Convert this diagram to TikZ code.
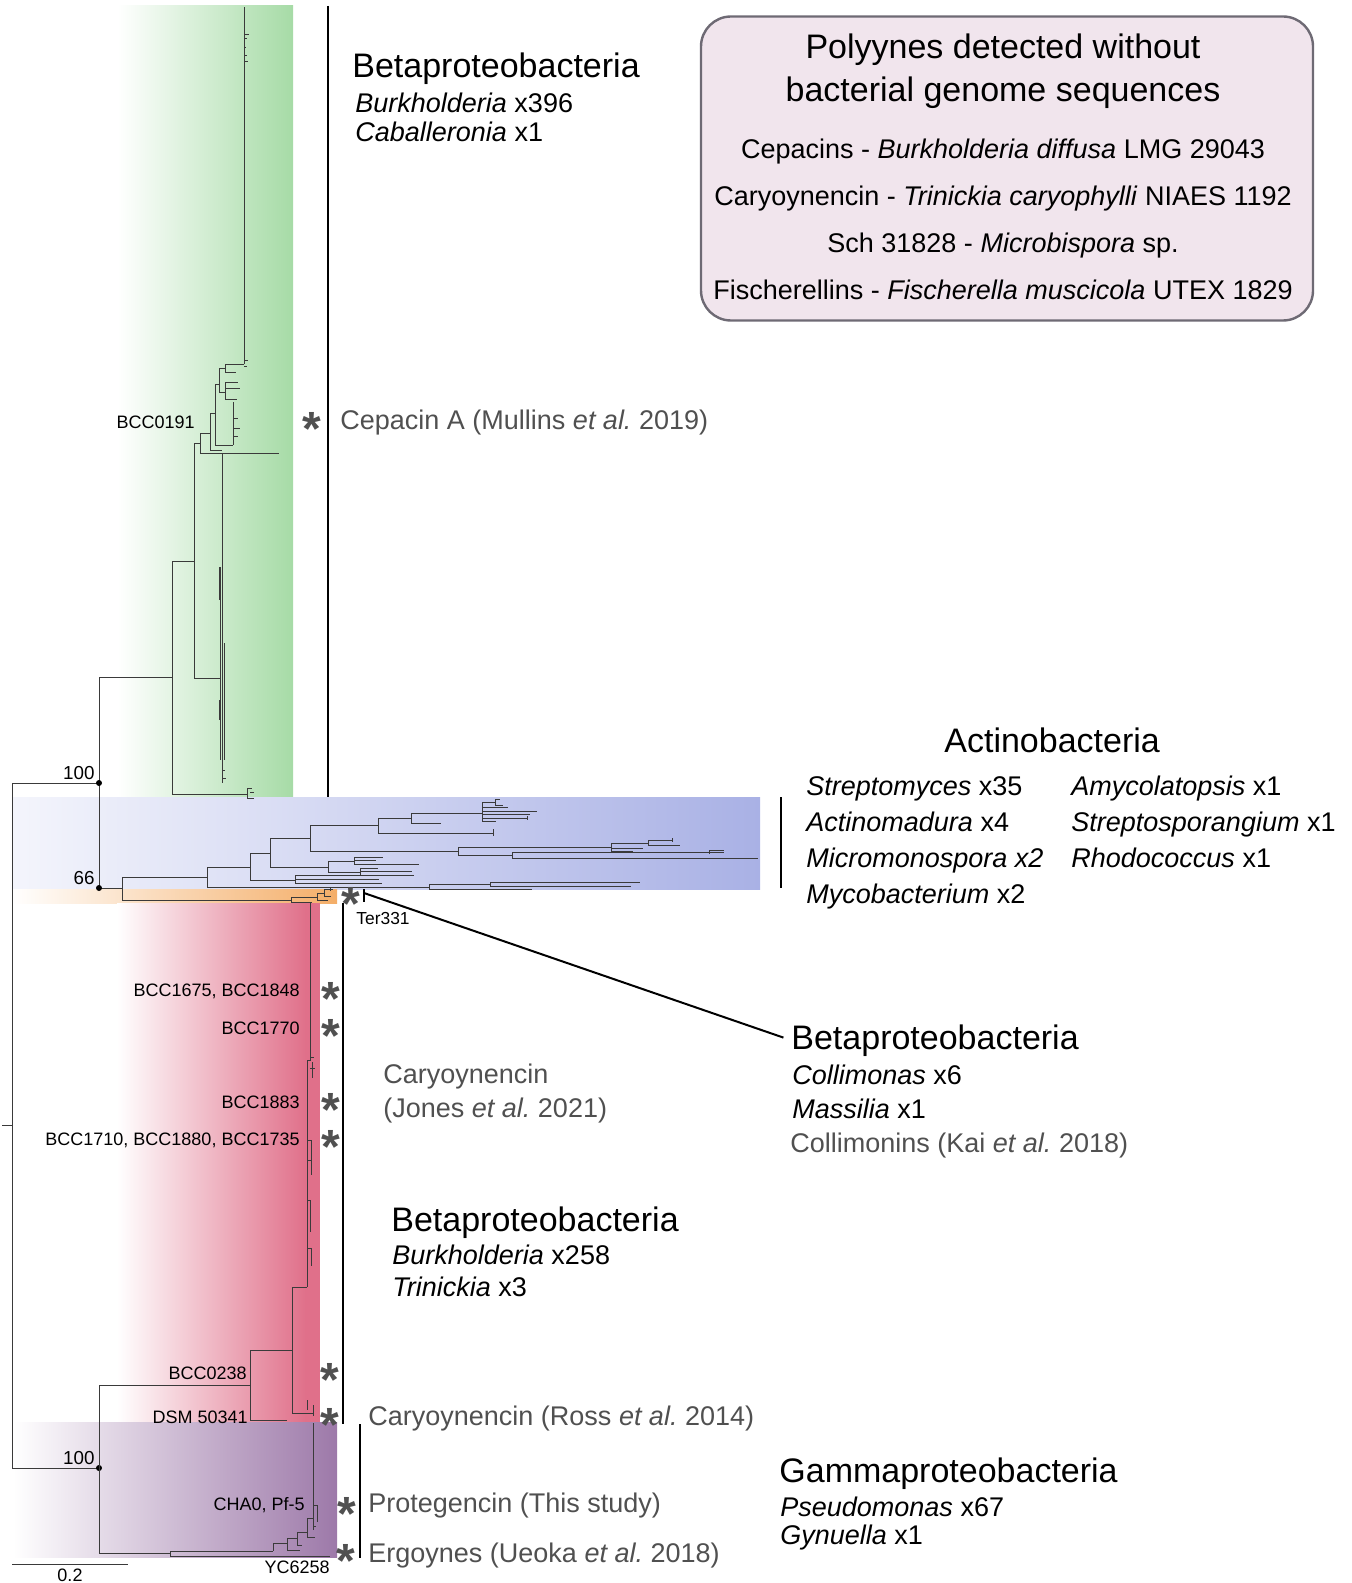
\documentclass[tikz,border=0pt]{standalone}
\usepackage{fontspec}
\setmainfont{Liberation Sans}
\usetikzlibrary{positioning}
\definecolor{CladeGreen}{HTML}{A6DBA6}
\definecolor{CladeBlueLt}{HTML}{F4F5FC}
\definecolor{CladeBlue}{HTML}{A9B1E5}
\definecolor{CladeOrange}{HTML}{F4AE68}
\definecolor{CladeRed}{HTML}{E0708A}
\definecolor{CladePurple}{HTML}{9D79A9}
\definecolor{BoxFill}{HTML}{F1E5ED}
\definecolor{BoxLine}{HTML}{6E6A74}
\definecolor{RefGray}{HTML}{505050}
\definecolor{BranchGray}{HTML}{3A3A3A}

\begin{document}
\begin{tikzpicture}[x=0.5pt, y=-0.5pt,
  branch/.style={draw=BranchGray, line width=0.5pt},
  cladebar/.style={draw=black, line width=1pt},
  heading/.style={anchor=base west, inner sep=0pt, font=\fontsize{17}{20}\selectfont},
  taxon/.style={anchor=base west, inner sep=0pt, font=\fontsize{13.5}{16}\selectfont},
  reftext/.style={taxon, text=RefGray},
  boxtitle/.style={anchor=base, inner sep=0pt, font=\fontsize{17}{20}\selectfont},
  boxline/.style={anchor=base, inner sep=0pt, font=\fontsize{13.5}{16}\selectfont},
  leaflab/.style={anchor=base east, inner sep=0pt, font=\fontsize{9}{11}\selectfont},
  bootlab/.style={anchor=base east, inner sep=0pt, font=\fontsize{9.4}{11}\selectfont},
  bootdot/.style={circle, fill=black, inner sep=0pt, minimum size=3pt},
  astnode/.style={anchor=base, inner sep=0pt, text=RefGray, font=\fontsize{24}{24}\bfseries\selectfont}
]
\useasboundingbox (0,0) rectangle (1351,1583);

% clade bands
\shade[left color=white, right color=CladeGreen] (118,6) rectangle (293,797);
\shade[left color=CladeBlueLt, right color=CladeBlue] (12,797) rectangle (760,889);
\shade[left color=white, right color=CladeOrange] (12,889) rectangle (337,903);
\shade[left color=white, right color=CladeRed] (117,903) rectangle (306,1422);
\fill[CladeRed] (305,903) rectangle (320,1422);
\shade[left color=white, right color=CladePurple] (13,1422) rectangle (337,1557);

% root
\draw[branch] (2,1125) -- (12,1125);
\draw[branch] (99,783) -- (12,783) -- (12,1468) -- (99,1468);
\draw[branch] (172,677) -| (99,888) -- (122,888);
\node[bootdot] (n100a) at (99,783) {};
\node[bootdot] (n66) at (99,888) {};
\node[bootdot] (n100b) at (99,1468) {};
\node[bootlab] (l100a) at (95,779) {100};
\node[bootlab] (l66) at (95,884) {66};
\node[bootlab] (l100b) at (95,1464) {100};

% green subtree
\draw[branch] (194,561) -| (172,794) -- (247,794);
\draw[branch] (247,788) -- (247,798) (247,788) -- (252,788) (247,798) -- (254,798) (250,792) -- (254,792);
\draw[branch] (200,443) -| (194,678) -- (220,678);
\draw[branch] (220,567) -- (220,760) (222,453) -- (222,783) (224,643) -- (224,760);
\draw[line width=0.9pt, BranchGray] (220,567) -- (220,600) (220,700) -- (220,720);
\draw[branch] (222,770) -- (225,770) (222,778) -- (226,778);
\draw[branch] (210,433) -| (200,453) -- (279,453);
\draw[branch] (215,413) -| (210,450) -- (222,450);
\draw[branch] (219,384) -| (215,445) -- (233,445);
\draw[branch] (233,402) -- (233,445) (233,418) -- (238,418) (233,428) -- (240,428) (233,436) -- (238,436);
\draw[branch] (225,368) -| (219,392) -- (225,392);
\draw[branch] (244,364) -| (225,372) -- (236,372);
\draw[branch] (225,382) -- (225,399) (225,382) -- (238,382) (225,388) -- (240,388) (225,399) -- (237,399);
\draw[branch] (244,364) -- (244,7);
\draw[branch] (244,35) -- (249,35) (244,39) -- (247,39) (244,48) -- (246,48) (244,56) -- (247,56) (244,62) -- (248,62);
\draw[branch] (244,361) -- (248,361) (244,366) -- (247,366);

% blue subtree
\draw[branch] (207,877) -| (122,900) -- (291,900);
\draw[branch] (250,867) -| (207,887) -- (429,887);
\draw[branch] (429,884) -- (429,889) (429,884) -- (490,884) (429,889) -- (532,889);
\draw[branch] (490,882) -- (490,886) (490,882) -- (640,882) (490,886) -- (631,886);
\draw[branch] (270,853) -| (250,880) -- (295,880);
\draw[branch] (295,875) -- (295,883) (295,875) -- (414,875) (295,879) -- (379,879) (295,883) -- (382,883);
\draw[branch] (310,838) -| (270,867) -- (328,867);
\draw[branch] (354,861) -| (328,872) -- (360,872);
\draw[branch] (354,857) -- (354,864) (354,857) -- (383,857) (354,860) -- (376,860) (354,864) -- (419,864);
\draw[branch] (360,868) -- (360,875) (360,868) -- (378,868) (360,871) -- (412,871) (360,875) -- (380,875);
\draw[branch] (378,825) -| (310,851) -- (458,851);
\draw[branch] (611,847) -| (458,855) -- (512,855);
\draw[branch] (611,843) -- (611,851) (611,843) -- (648,843) (611,848) -- (643,848) (611,851) -- (633,851);
\draw[branch] (648,840) -- (648,845) (648,840) -- (672,840) (648,845) -- (680,845) (672,838) -- (672,842);
\draw[branch] (512,852) -- (512,858) (512,852) -- (724,852) (512,858) -- (758,858) (709,850) -- (709,854) (709,850) -- (724,850);
\draw[branch] (411,818) -| (378,833) -- (493,833);
\draw[branch] (493,829) -- (493,836);
\draw[branch] (482,813) -| (411,823) -- (441,823);
\draw[branch] (482,802) -- (482,821) (482,802) -- (495,802) (482,807) -- (508,807) (482,811) -- (537,811) (482,814) -- (530,814) (482,818) -- (527,818) (482,821) -- (496,821);
\draw[branch] (495,799) -- (495,805) (495,799) -- (500,799) (495,805) -- (503,805) (527,816) -- (527,820);

% orange subtree
\draw[branch] (291,897) -- (291,902) (291,897) -- (317,897) (291,902) -- (312,902);
\draw[branch] (317,893) -- (317,900) (317,893) -- (324,893) (317,900) -- (328,900);
\draw[branch] (324,889) -- (324,896) (324,889) -- (333,889) (324,896) -- (331,896) (330,887) -- (330,891);

% red subtree
\draw[branch] (99,1385) -- (250,1385);
\draw[branch] (292,1350) -| (250,1420) -- (287,1420);
\draw[branch] (307,1287) -| (292,1413) -- (313,1413);
\draw[branch] (313,1405) -- (313,1416) (307,1400) -- (307,1410);
\draw[branch] (310,903) -- (310,1060) -- (307,1060) -- (307,1287);
\draw[branch] (310,1057) -- (314,1057) (312,1062) -- (312,1078) (310,1068) -- (315,1068);
\draw[branch] (307,1140) -- (311,1140) -- (311,1175) (307,1160) -- (312,1160);
\draw[branch] (307,1200) -- (310,1200) -- (310,1232) (307,1248) -- (311,1248) -- (311,1266);

% purple subtree
\draw[branch] (99,1385) -- (99,1553) -- (170,1553);
\draw[branch] (170,1551) -- (170,1556) (170,1551) -- (273,1551) (170,1556) -- (330,1556);
\draw[branch] (287,1543) -| (273,1551);
\draw[branch] (297,1538) -| (287,1550) -- (300,1550);
\draw[branch] (307,1532) -| (297,1545) -- (302,1545);
\draw[branch] (313,1518) -| (307,1537) -- (315,1537);
\draw[branch] (313,1423) -- (313,1530) (313,1505) -- (317,1505) -- (317,1522) (313,1526) -- (316,1526);

% clade bars
\draw[cladebar] (328,6) -- (328,797);
\draw[cladebar] (781,797) -- (781,888);
\draw[cladebar] (343,903) -- (343,1424);
\draw[cladebar] (360,1424) -- (360,1558);

% scale bar
\draw[branch] (12,1564) -- (128,1564);
\node[anchor=base, inner sep=0pt, font=\fontsize{9}{11}\selectfont] (scale) at (70,1581) {0.2};

% leaf labels
\node[leaflab] (bcc0191) at (195,428) {BCC0191};
\node[leaflab] (bcc1675) at (300,996) {BCC1675, BCC1848};
\node[leaflab] (bcc1770) at (300,1034) {BCC1770};
\node[leaflab] (bcc1883) at (300,1108) {BCC1883};
\node[leaflab] (bcc1710) at (300,1145) {BCC1710, BCC1880, BCC1735};
\node[leaflab] (bcc0238) at (247,1379) {BCC0238};
\node[leaflab] (dsm) at (248,1423) {DSM 50341};
\node[leaflab] (cha0) at (305,1510) {CHA0, Pf-5};
\node[leaflab] (yc6258) at (330,1573) {YC6258};
\node[anchor=base west, inner sep=0pt, font=\fontsize{8.7}{11}\selectfont] (ter331) at (356,924) {Ter331};

% asterisks
\node[astnode] (a1) at (312,445) {*};
\node[astnode] (a2) at (351,920) {*};
\node[astnode] (a3) at (331,1015) {*};
\node[astnode] (a4) at (331,1052) {*};
\node[astnode] (a5) at (331,1126) {*};
\node[astnode] (a6) at (331,1163) {*};
\node[astnode] (a7) at (330,1396) {*};
\node[astnode] (a8) at (330,1441) {*};
\node[astnode] (a9) at (347,1530) {*};
\node[astnode] (a10) at (346,1577) {*};

% zoom connector
\coordinate (terTick) at (364,893);
\draw[cladebar] (364,889) -- (364,902);

% group labels
\node[heading] (betaTop) at (352,78) {Betaproteobacteria};
\node[taxon] (burkTop) at (355,113) {\textit{Burkholderia} x396};
\node[taxon] (cabTop) at (355,142) {\textit{Caballeronia} x1};
\node[reftext] (cepacin) at (340,429) {Cepacin A (Mullins \textit{et al.}\ 2019)};

\node[heading] (actino) at (944,752) {Actinobacteria};
\node[taxon] (strep) at (806,795) {\textit{Streptomyces} x35};
\node[taxon] (actmad) at (806,831) {\textit{Actinomadura} x4};
\node[taxon] (micmon) at (806,867) {\textit{Micromonospora x2}};
\node[taxon] (mycob) at (806,903) {\textit{Mycobacterium} x2};
\node[taxon] (amyco) at (1071,795) {\textit{Amycolatopsis} x1};
\node[taxon] (streptosp) at (1071,831) {\textit{Streptosporangium} x1};
\node[taxon] (rhodo) at (1071,867) {\textit{Rhodococcus} x1};

\node[heading] (betaColli) at (791,1049) {Betaproteobacteria};
\node[taxon] (colli) at (792,1084) {\textit{Collimonas} x6};
\node[taxon] (massi) at (792,1118) {\textit{Massilia} x1};
\node[reftext] (collimonins) at (790,1152) {Collimonins (Kai \textit{et al.}\ 2018)};
\draw[cladebar, shorten >=4pt] (terTick) -- (betaColli.west);

\node[reftext] (caryJ1) at (383,1083) {Caryoynencin};
\node[reftext] (caryJ2) at (383,1117) {(Jones \textit{et al.}\ 2021)};
\node[heading] (betaRed) at (391,1231) {Betaproteobacteria};
\node[taxon] (burkRed) at (392,1264) {\textit{Burkholderia} x258};
\node[taxon] (trin) at (392,1296) {\textit{Trinickia} x3};
\node[reftext] (caryR) at (368,1425) {Caryoynencin (Ross \textit{et al.}\ 2014)};
\node[reftext] (proteg) at (368,1512) {Protegencin (This study)};
\node[reftext] (ergo) at (368,1562) {Ergoynes (Ueoka \textit{et al.}\ 2018)};

\node[heading] (gamma) at (779,1482) {Gammaproteobacteria};
\node[taxon] (pseudo) at (780,1516) {\textit{Pseudomonas} x67};
\node[taxon] (gynu) at (780,1544) {\textit{Gynuella} x1};

% box of polyynes
\node[draw=BoxLine, fill=BoxFill, line width=1.2pt, rounded corners=15pt, minimum width=306pt, minimum height=152pt] (polybox) at (1007,168.5) {};
\node[boxtitle] (boxT1) at (1003,59) {Polyynes detected without};
\node[boxtitle] (boxT2) at (1003,102) {bacterial genome sequences};
\node[boxline] (boxL1) at (1003,159) {Cepacins - \textit{Burkholderia diffusa} LMG 29043};
\node[boxline] (boxL2) at (1003,206) {Caryoynencin - \textit{Trinickia caryophylli} NIAES 1192};
\node[boxline] (boxL3) at (1003,253) {Sch 31828 - \textit{Microbispora} sp.};
\node[boxline] (boxL4) at (1003,300) {Fischerellins - \textit{Fischerella muscicola} UTEX 1829};
\end{tikzpicture}
\end{document}
